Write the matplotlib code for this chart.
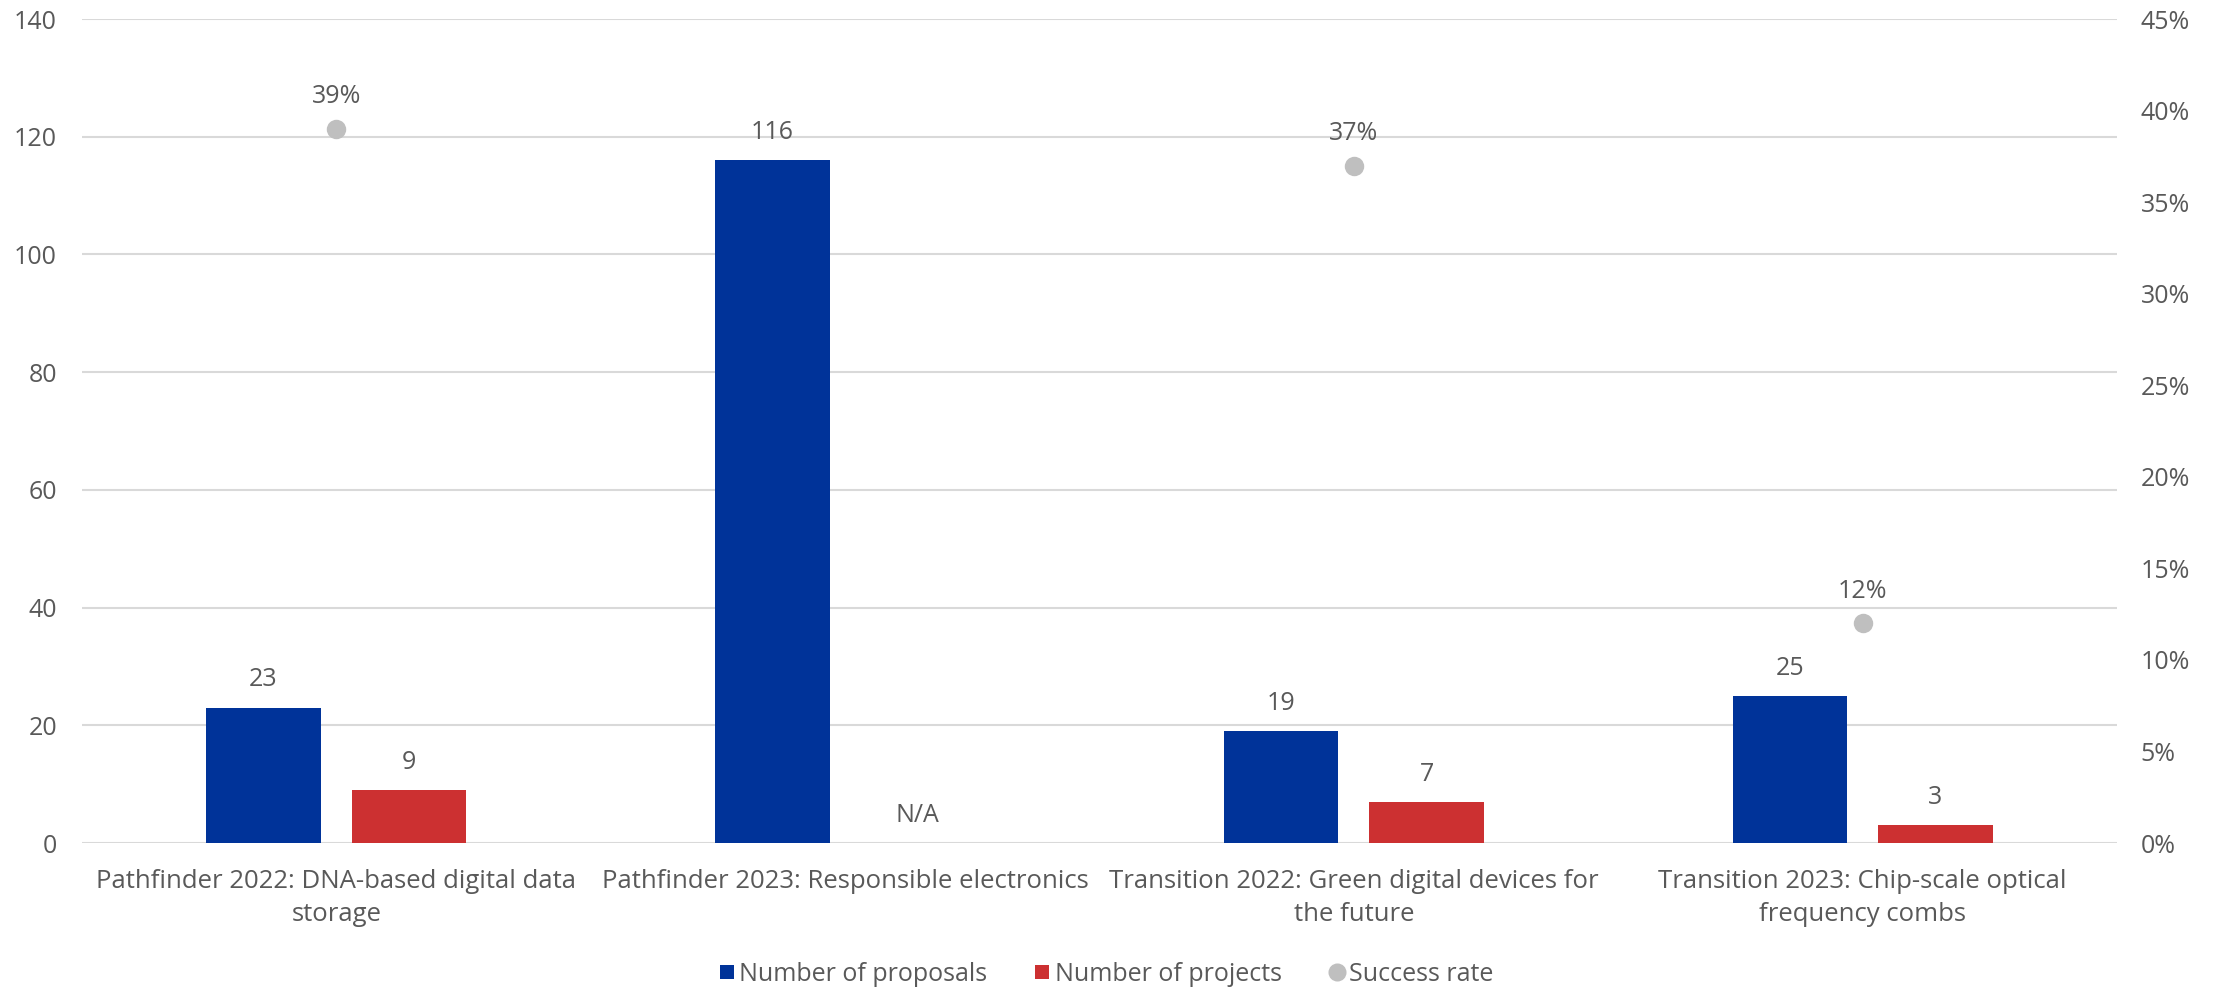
import matplotlib
matplotlib.use("Agg")
import matplotlib.pyplot as plt
from matplotlib.lines import Line2D
import numpy as np

# data
categories = [
    "Pathfinder 2022: DNA-based digital data\nstorage",
    "Pathfinder 2023: Responsible electronics",
    "Transition 2022: Green digital devices for\nthe future",
    "Transition 2023: Chip-scale optical\nfrequency combs",
]
proposals = [23, 116, 19, 25]
projects = [9, None, 7, 3]          # None -> shown as N/A
success_rate = [0.39, None, 0.37, 0.12]

BLUE = "#003399"
RED = "#CC3031"
GREY_DOT = "#BFBFBF"
TXT = "#595959"
GRID = "#D9D9D9"
FS = 18

plt.rcParams['font.family'] = ['Open Sans', 'DejaVu Sans']
plt.rcParams['font.size'] = FS

fig = plt.figure(figsize=(22.13, 9.91), dpi=100)
ax = fig.add_axes([0.037, 0.1493, 0.9196, 0.8315])
ax2 = ax.twinx()

x = np.arange(len(categories))
w = 0.225
off = 0.143

proj_vals = [v if v is not None else 0 for v in projects]
ax.bar(x - off, proposals, w, color=BLUE, zorder=3)
ax.bar(x + off, proj_vals, w, color=RED, zorder=3)

for xi, v in zip(x, proposals):
    ax.annotate(str(v), (xi - off, v), xytext=(0, 20), textcoords='offset points',
                ha='center', va='center', color=TXT, fontsize=FS)
for xi, v in zip(x, projects):
    lab = str(v) if v is not None else "N/A"
    ax.annotate(lab, (xi + off, v if v is not None else 0), xytext=(0, 20),
                textcoords='offset points', ha='center', va='center', color=TXT, fontsize=FS)

sx = [xi for xi, s in zip(x, success_rate) if s is not None]
sy = [s for s in success_rate if s is not None]
ax2.plot(sx, sy, linestyle='none', marker='o', markersize=14, color=GREY_DOT,
         markeredgewidth=0, zorder=4)
for xi, s in zip(sx, sy):
    ax2.annotate(f"{round(s * 100)}%", (xi, s), xytext=(0, 23), textcoords='offset points',
                 ha='center', va='center', color=TXT, fontsize=FS)

ax.set_xlim(-0.5, len(categories) - 0.5)
ax.set_ylim(0, 140)
ax.set_yticks(np.arange(0, 141, 20))
ax2.set_ylim(0, 0.45)
ax2.set_yticks(np.arange(0, 0.451, 0.05))
ax2.set_yticklabels([f"{round(t * 100)}%" for t in np.arange(0, 0.451, 0.05)])

ax.set_xticks(x)
ax.set_xticklabels(categories, linespacing=1.4, fontsize=18.5)

ax.grid(axis='y', color=GRID, linewidth=1.5, zorder=0)
ax.set_axisbelow(True)
for a in (ax, ax2):
    for s in a.spines.values():
        s.set_visible(False)
ax.tick_params(axis='both', length=0, colors=TXT)
ax.tick_params(axis='y', pad=18)
ax.tick_params(axis='x', pad=19)
ax2.tick_params(axis='y', length=0, colors=TXT, pad=17)

handles = [
    Line2D([], [], linestyle='none', marker='s', markersize=10, color=BLUE, markeredgewidth=0),
    Line2D([], [], linestyle='none', marker='s', markersize=10, color=RED, markeredgewidth=0),
    Line2D([], [], linestyle='none', marker='o', markersize=13, color=GREY_DOT, markeredgewidth=0),
]
labels = ["Number of proposals", "Number of projects", "Success rate"]
fig.legend(handles, labels, loc='center', bbox_to_anchor=(0.5, 0.017), ncol=3,
           frameon=False, handlelength=0.6, handletextpad=0.2, columnspacing=1.9,
           labelcolor=TXT, fontsize=18)

fig.savefig("out.png", dpi=100, facecolor='white')
